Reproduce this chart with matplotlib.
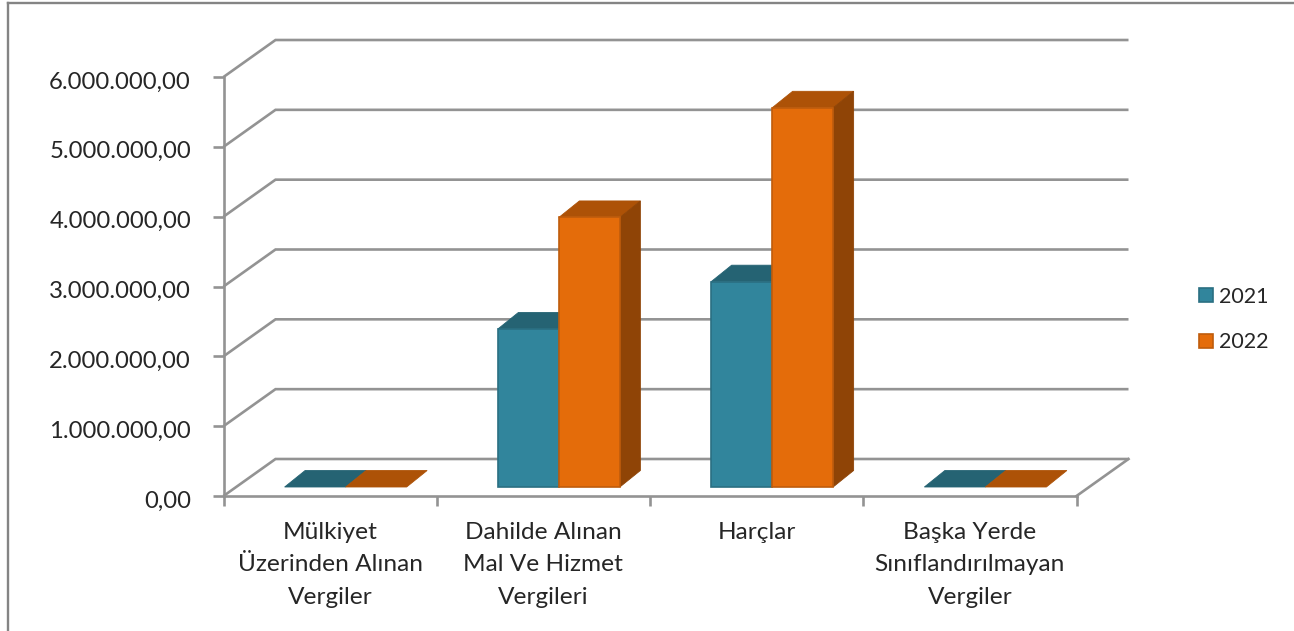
import matplotlib
matplotlib.use("Agg")
import matplotlib.pyplot as plt
from matplotlib.lines import Line2D
from matplotlib.patches import Patch, Polygon
from matplotlib.ticker import FuncFormatter
from matplotlib.transforms import Affine2D

plt.rcParams['font.family'] = ['Lato', 'DejaVu Sans']

categories = ["Mülkiyet\nÜzerinden Alınan\nVergiler",
              "Dahilde Alınan\nMal Ve Hizmet\nVergileri",
              "Harçlar",
              "Başka Yerde\nSınıflandırılmayan\nVergiler"]
series_names = ["2021", "2022"]
values_2021 = [0, 2263000, 2940000, 0]
values_2022 = [0, 3860000, 5430000, 0]
y_ticks = [0, 1000000, 2000000, 3000000, 4000000, 5000000, 6000000]

W, H = 1294, 631
L, R, B, T = 223.5, 1076.5, 496, 77
GREY = "#939393"
TEXT = "#262626"
LW = 1.9

fig = plt.figure(figsize=(W / 100, H / 100), dpi=100, facecolor="white")
ax = fig.add_axes([L / W, (H - B) / H, (R - L) / W, (B - T) / H])
ax.set_xlim(0, len(categories))
ax.set_ylim(0, 6000000)

px_x = len(categories) / (R - L)
px_y = 6000000 / (B - T)


def shift(x, y, dx, dy):
    """Depth projection: move a data point by (dx, dy) screen pixels."""
    return (x + dx * px_x, y + dy * px_y)


# walls
WALL_DX, WALL_DY = 52, 37
for v in y_ticks:
    bx, by = shift(0, v, WALL_DX, WALL_DY)
    ex, ey = shift(len(categories), v, WALL_DX, WALL_DY)
    ax.plot([0, bx, ex], [v, by, ey], color=GREY, lw=LW, clip_on=False,
            zorder=1, solid_joinstyle="miter", solid_capstyle="butt")
fx, fy = shift(len(categories), 0, WALL_DX, WALL_DY)
ax.plot([len(categories), fx], [0, fy], color=GREY, lw=LW, clip_on=False, zorder=1)

# bars
BAR_W = 61 * px_x
OFF_DX, OFF_DY = 15.5, 9
D_DX, D_DY = 20.5, 16.5
styles = [
    {"front": "#31859C", "top": "#256373", "side": "#1F5361", "edge": "#2A6F82"},
    {"front": "#E46C0A", "top": "#AD5207", "side": "#8F4406", "edge": "#BF5C0C"},
]
for s, vals in enumerate([values_2021, values_2022]):
    st = styles[s]
    for i, v in enumerate(vals):
        x0 = i + 0.5 - BAR_W + s * BAR_W
        x1 = x0 + BAR_W
        a = shift(x0, 0, OFF_DX, OFF_DY)
        b = shift(x1, 0, OFF_DX, OFF_DY)
        c = shift(x1, v, OFF_DX, OFF_DY)
        d = shift(x0, v, OFF_DX, OFF_DY)
        c2 = shift(c[0], c[1], D_DX, D_DY)
        d2 = shift(d[0], d[1], D_DX, D_DY)
        b2 = shift(b[0], b[1], D_DX, D_DY)
        z = 3 + s
        ax.add_patch(Polygon([d, c, c2, d2], closed=True, fc=st["top"], ec=st["top"],
                             lw=0.6, clip_on=False, zorder=z))
        if v > 0:
            ax.add_patch(Polygon([b, b2, c2, c], closed=True, fc=st["side"], ec=st["side"],
                                 lw=0.6, clip_on=False, zorder=z))
            ax.add_patch(Polygon([a, b, c, d], closed=True, fc=st["front"], ec=st["edge"],
                                 lw=1.2, clip_on=False, zorder=z + 0.1))

# axes
for name in ("top", "right"):
    ax.spines[name].set_visible(False)
for name in ("left", "bottom"):
    ax.spines[name].set_color(GREY)
    ax.spines[name].set_linewidth(LW)
    ax.spines[name].set_zorder(2)
ax.patch.set_alpha(0)

ax.set_yticks(y_ticks)
ax.yaxis.set_major_formatter(FuncFormatter(
    lambda v, _: f"{v:,.2f}".replace(",", "X").replace(".", ",").replace("X", ".")))
ax.tick_params(axis="y", length=8, width=LW, color=GREY, labelsize=17.2,
               labelcolor=TEXT, pad=15.4)
for lab in ax.get_yticklabels():
    lab.set_transform(lab.get_transform() + Affine2D().translate(0, -3))
ax.set_xticks(range(len(categories) + 1))
ax.set_xticklabels([])
ax.tick_params(axis="x", which="major", length=7, width=LW, color=GREY)
ax.set_xticks([i + 0.5 for i in range(len(categories))], minor=True)
ax.set_xticklabels(categories, minor=True, fontsize=17.6, color=TEXT, linespacing=1.68,
                   va="top")
ax.tick_params(axis="x", which="minor", length=0, pad=18.5)

# legend
handles = [Patch(fc=st["front"], ec=st["edge"], lw=1.2) for st in styles]
fig.legend(handles, series_names, loc="center left",
           bbox_to_anchor=(1199 / W, (H - 319.5) / H), frameon=False, fontsize=15.5,
           labelcolor=TEXT, handlelength=0.65, handleheight=0.65, handletextpad=0.27,
           labelspacing=1.2, borderpad=0, borderaxespad=0)

# outer chart frame
fig.add_artist(Line2D([7.5 / W, 7.5 / W], [0, 1 - 2.5 / H], color="#848484", lw=1.7))
fig.add_artist(Line2D([7.5 / W, 1], [1 - 2.5 / H, 1 - 2.5 / H], color="#848484", lw=1.7))

fig.savefig("out.png", dpi=100, facecolor="white")
